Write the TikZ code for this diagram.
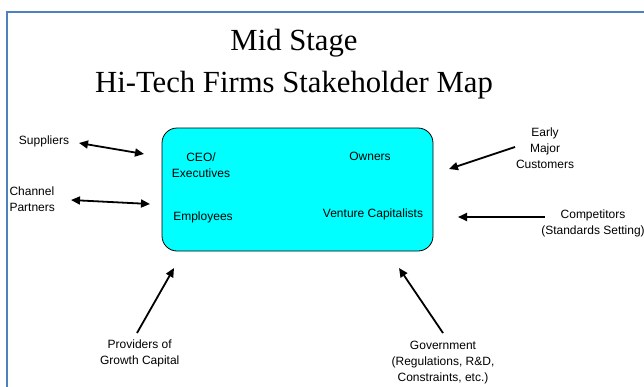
\documentclass[tikz,border=0pt]{standalone}
\usepackage{fontspec}
\setmainfont{Liberation Sans}
\newfontfamily\titlefont{Liberation Serif}
\usetikzlibrary{arrows.meta}
\definecolor{framecol}{RGB}{79,129,189}
\definecolor{firmcol}{RGB}{0,255,255}

\tikzset{
  lbl/.style={inner sep=0pt, align=center, font=\fontsize{12}{16}\selectfont},
  link/.style={line width=1.8pt, -{Triangle[length=9pt,width=8pt]}},
  dlink/.style={line width=1.8pt, {Triangle[length=9pt,width=8pt]}-{Triangle[length=9pt,width=8pt]}},
}

\begin{document}
\begin{tikzpicture}[x=1pt,y=-1pt]
\useasboundingbox (0,0) rectangle (644,386);
% frame, only the left and top edges fall on the page
\draw[framecol, line width=2pt] (7,12) rectangle (680,420);
\node[inner sep=0pt, align=center, font=\titlefont\fontsize{30.7}{42.7}\selectfont] (title) at (294,64.2) {Mid Stage\\Hi-Tech Firms Stakeholder Map};
% the firm
\node[draw, line width=0.8pt, fill=firmcol, rounded corners=15pt, minimum width=271pt, minimum height=123pt] (firm) at (297.5,189.5) {};
\node[lbl] (ceo) at (201,165) {CEO/\\Executives};
\node[lbl] (owners) at (370,156) {Owners};
\node[lbl] (staff) at (203,217) {Employees};
\node[lbl] (vc) at (373,214) {Venture Capitalists};
% stakeholders round it
\node[lbl] (suppliers) at (44,141) {Suppliers};
\node[lbl, align=left, anchor=west] (channel) at (9.3,199.5) {Channel\\Partners};
\node[lbl] (early) at (545,148.5) {Early\\Major\\Customers};
\node[lbl] (comp) at (593,223.5) {Competitors\\(Standards Setting)};
\node[lbl] (growth) at (139.7,353) {Providers of\\Growth Capital};
\node[lbl] (gov) at (443,363) {Government\\(Regulations, R\&D,\\Constraints, etc.)};
% arrow ends
\coordinate (sup-a) at (79,143);
\coordinate (sup-b) at (144,154);
\coordinate (chan-a) at (71,200);
\coordinate (chan-b) at (150,204);
\coordinate (early-a) at (515,147);
\coordinate (early-b) at (449,169);
\coordinate (comp-a) at (545,217);
\coordinate (comp-b) at (458,217);
\coordinate (growth-a) at (137,333);
\coordinate (growth-b) at (174,268);
\coordinate (gov-a) at (443,333);
\coordinate (gov-b) at (399,268);
\draw[dlink] (sup-a) -- (sup-b);
\draw[dlink] (chan-a) -- (chan-b);
\draw[link] (early-a) -- (early-b);
\draw[link] (comp-a) -- (comp-b);
\draw[link] (growth-a) -- (growth-b);
\draw[link] (gov-a) -- (gov-b);
\end{tikzpicture}
\end{document}
